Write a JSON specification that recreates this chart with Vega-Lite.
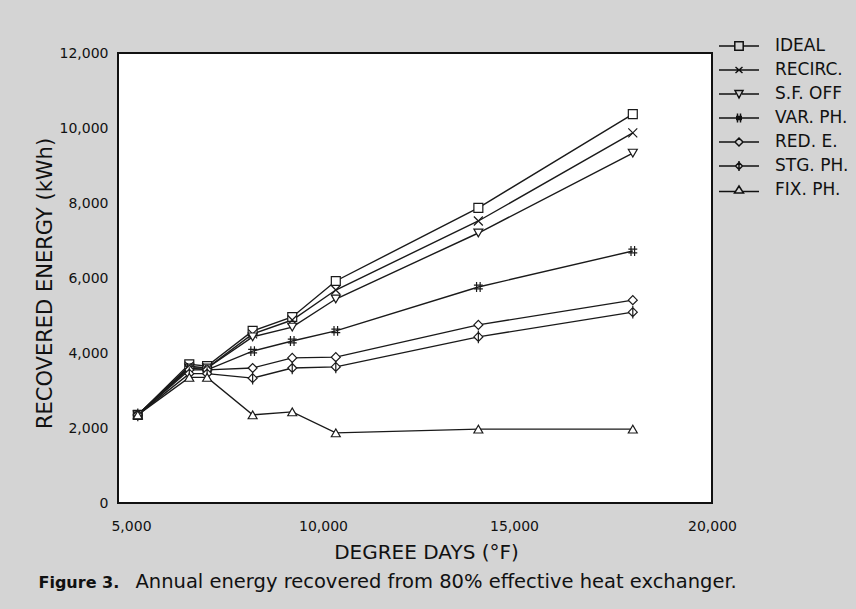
{
  "$schema": "https://vega.github.io/schema/vega-lite/v6.json",
  "width": 594,
  "height": 450,
  "autosize": "none",
  "padding": {"left": 118, "top": 53, "right": 144, "bottom": 106},
  "background": "#d4d4d4",
  "config": {
    "font": "DejaVu Sans",
    "view": {"fill": "white", "stroke": "#111111", "strokeWidth": 2}
  },
  "data": {
    "values": [
      {"series": "IDEAL", "dd": 5500, "energy": 2350},
      {"series": "IDEAL", "dd": 6800, "energy": 3700},
      {"series": "IDEAL", "dd": 7250, "energy": 3650},
      {"series": "IDEAL", "dd": 8400, "energy": 4590},
      {"series": "IDEAL", "dd": 9400, "energy": 4960},
      {"series": "IDEAL", "dd": 10500, "energy": 5920},
      {"series": "IDEAL", "dd": 14100, "energy": 7870},
      {"series": "IDEAL", "dd": 18000, "energy": 10370},
      {"series": "RECIRC.", "dd": 5500, "energy": 2350},
      {"series": "RECIRC.", "dd": 6800, "energy": 3650},
      {"series": "RECIRC.", "dd": 7250, "energy": 3600},
      {"series": "RECIRC.", "dd": 8400, "energy": 4510},
      {"series": "RECIRC.", "dd": 9400, "energy": 4880},
      {"series": "RECIRC.", "dd": 10500, "energy": 5680},
      {"series": "RECIRC.", "dd": 14100, "energy": 7520},
      {"series": "RECIRC.", "dd": 18000, "energy": 9870},
      {"series": "S.F. OFF", "dd": 5500, "energy": 2350},
      {"series": "S.F. OFF", "dd": 6800, "energy": 3600},
      {"series": "S.F. OFF", "dd": 7250, "energy": 3600},
      {"series": "S.F. OFF", "dd": 8400, "energy": 4430},
      {"series": "S.F. OFF", "dd": 9400, "energy": 4690},
      {"series": "S.F. OFF", "dd": 10500, "energy": 5440},
      {"series": "S.F. OFF", "dd": 14100, "energy": 7200},
      {"series": "S.F. OFF", "dd": 18000, "energy": 9330},
      {"series": "VAR. PH.", "dd": 5500, "energy": 2350},
      {"series": "VAR. PH.", "dd": 6800, "energy": 3600},
      {"series": "VAR. PH.", "dd": 7250, "energy": 3550},
      {"series": "VAR. PH.", "dd": 8400, "energy": 4050},
      {"series": "VAR. PH.", "dd": 9400, "energy": 4320},
      {"series": "VAR. PH.", "dd": 10500, "energy": 4590},
      {"series": "VAR. PH.", "dd": 14100, "energy": 5760},
      {"series": "VAR. PH.", "dd": 18000, "energy": 6720},
      {"series": "RED. E.", "dd": 5500, "energy": 2350},
      {"series": "RED. E.", "dd": 6800, "energy": 3550},
      {"series": "RED. E.", "dd": 7250, "energy": 3550},
      {"series": "RED. E.", "dd": 8400, "energy": 3600},
      {"series": "RED. E.", "dd": 9400, "energy": 3870},
      {"series": "RED. E.", "dd": 10500, "energy": 3890},
      {"series": "RED. E.", "dd": 14100, "energy": 4750},
      {"series": "RED. E.", "dd": 18000, "energy": 5410},
      {"series": "STG. PH.", "dd": 5500, "energy": 2350},
      {"series": "STG. PH.", "dd": 6800, "energy": 3450},
      {"series": "STG. PH.", "dd": 7250, "energy": 3450},
      {"series": "STG. PH.", "dd": 8400, "energy": 3330},
      {"series": "STG. PH.", "dd": 9400, "energy": 3600},
      {"series": "STG. PH.", "dd": 10500, "energy": 3630},
      {"series": "STG. PH.", "dd": 14100, "energy": 4430},
      {"series": "STG. PH.", "dd": 18000, "energy": 5090},
      {"series": "FIX. PH.", "dd": 5500, "energy": 2350},
      {"series": "FIX. PH.", "dd": 6800, "energy": 3350},
      {"series": "FIX. PH.", "dd": 7250, "energy": 3350},
      {"series": "FIX. PH.", "dd": 8400, "energy": 2350},
      {"series": "FIX. PH.", "dd": 9400, "energy": 2430},
      {"series": "FIX. PH.", "dd": 10500, "energy": 1870},
      {"series": "FIX. PH.", "dd": 14100, "energy": 1970},
      {"series": "FIX. PH.", "dd": 18000, "energy": 1970}
    ]
  },
  "layer": [
    {
      "mark": {"type": "line", "stroke": "#1a1a1a", "strokeWidth": 1.4},
      "encoding": {
        "x": {
          "field": "dd", "type": "quantitative",
          "scale": {"domain": [5000, 20000], "nice": false, "zero": false},
          "axis": {
            "values": [5000, 10000, 15000, 20000], "format": ",d",
            "labelFontSize": 14, "labelPadding": 16, "labelColor": "#111111", "labelFlush": false,
            "labelOffset": {"condition": [{"test": "datum.value === 5000", "value": 13}, {"test": "datum.value === 10000", "value": 7}], "value": 0},
            "ticks": false, "domain": false, "grid": false,
            "title": "DEGREE DAYS (°F)", "titleFontSize": 20, "titleFontWeight": "normal",
            "titleColor": "#111111", "titleX": 308, "titleY": 55, "titleBaseline": "alphabetic"
          }
        },
        "y": {
          "field": "energy", "type": "quantitative",
          "scale": {"domain": [0, 12000], "nice": false},
          "axis": {
            "values": [0, 2000, 4000, 6000, 8000, 10000, 12000], "format": ",d",
            "labelFontSize": 14, "labelPadding": 10, "labelColor": "#111111",
            "ticks": false, "domain": false, "grid": false,
            "title": "RECOVERED ENERGY (kWh)", "titleFontSize": 21, "titleFontWeight": "normal",
            "titleColor": "#111111", "titleX": -63, "titleY": 230
          }
        },
        "detail": {"field": "series"}
      }
    },
    {
      "mark": {"type": "point", "filled": true, "fill": "white", "stroke": "#1a1a1a", "strokeWidth": 1.2, "size": 80, "opacity": 1},
      "encoding": {
        "x": {
          "field": "dd", "type": "quantitative",
          "axis": {
            "orient": "bottom", "labels": false, "ticks": false, "domain": false, "grid": false,
            "title": "Annual energy recovered from 80% effective heat exchanger.",
            "titleX": 17, "titleY": 84, "titleAlign": "left", "titleBaseline": "alphabetic",
            "titleFontSize": 19.5, "titleFontWeight": "normal", "titleColor": "#111111"
          }
        },
        "y": {
          "field": "energy", "type": "quantitative",
          "axis": {
            "orient": "left", "labels": false, "ticks": false, "domain": false, "grid": false,
            "title": "Figure 3.", "titleAngle": 0, "titleX": -80, "titleY": 534,
            "titleAlign": "left", "titleBaseline": "alphabetic",
            "titleFontSize": 16, "titleFontWeight": "bold", "titleColor": "#111111"
          }
        },
        "shape": {
          "field": "series", "type": "nominal",
          "scale": {
            "domain": ["IDEAL", "RECIRC.", "S.F. OFF", "VAR. PH.", "RED. E.", "STG. PH.", "FIX. PH."],
            "range": ["square", "M-1,-1L1,1M-1,1L1,-1", "triangle-down", "M-0.4,-1.1V1.1M0.4,-1.1V1.1M-1,-0.4H1M-1,0.4H1", "diamond", "M0,-1L1,0L0,1L-1,0ZM0,-1.4V1.4", "triangle-up"]
          },
          "legend": null
        }
      }
    },
    {
      "transform": [{"filter": "false"}],
      "mark": {"type": "point", "filled": false, "stroke": "#111111", "strokeWidth": 1.5},
      "encoding": {
        "x": {"field": "dd", "type": "quantitative", "axis": null},
        "y": {"field": "energy", "type": "quantitative", "axis": null},
        "shape": {
          "field": "series", "type": "nominal",
          "scale": {
            "domain": ["IDEAL", "RECIRC.", "S.F. OFF", "VAR. PH.", "RED. E.", "STG. PH.", "FIX. PH."],
            "range": [
              "M-2,0H-0.42M0.42,0H2M-0.42,-0.42H0.42V0.42H-0.42Z",
              "M-2,0H2M-0.35,-0.3L0.35,0.3M-0.35,0.3L0.35,-0.3",
              "M-2,0H-0.3M0.3,0H2M-0.4,-0.35L0.4,-0.35L0,0.4Z",
              "M-2,0H2M-0.15,-0.45V0.45M0.15,-0.45V0.45M-0.3,-0.15H0.3M-0.3,0.15H0.3",
              "M-2,0H-0.4M0.4,0H2M0,-0.4L0.4,0L0,0.4L-0.4,0Z",
              "M-2,0H-0.35M0.35,0H2M0,-0.35L0.35,0L0,0.35L-0.35,0ZM0,-0.5V0.5",
              "M-2,0.15H-0.4M0.4,0.15H2M0,-0.4L0.45,0.3L-0.45,0.3Z"
            ]
          },
          "legend": {
            "orient": "none", "legendX": 610, "legendY": -18, "title": null, "padding": 0,
            "symbolSize": 400, "rowPadding": 5, "labelOffset": 25,
            "labelFontSize": 17, "labelColor": "#111111", "labelFont": "DejaVu Sans",
            "symbolStrokeWidth": 1.5, "symbolOpacity": 1
          }
        }
      }
    }
  ],
  "resolve": {"axis": {"x": "independent", "y": "independent"}, "scale": {"shape": "independent"}}
}
